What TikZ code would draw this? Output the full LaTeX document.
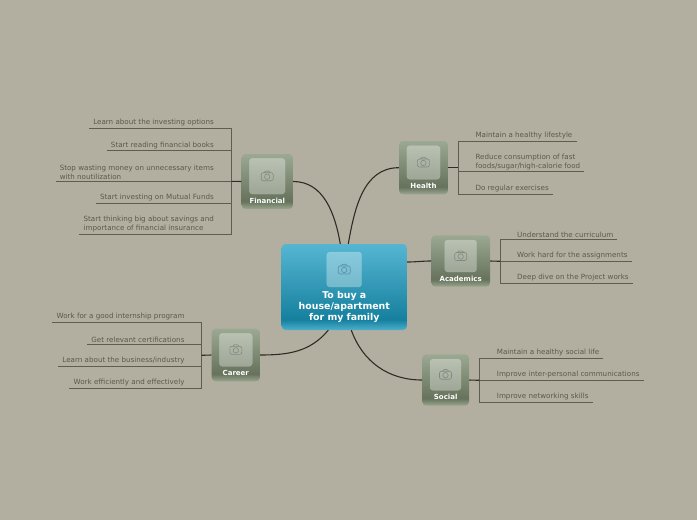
\documentclass[tikz,border=0pt]{standalone}
\usepackage{fontspec}
\setmainfont{DejaVu Sans}
\definecolor{canvas}{HTML}{B3AFA0}
\definecolor{leafink}{HTML}{5A584C}
\definecolor{branchink}{HTML}{5F5C50}
\definecolor{linkink}{HTML}{2E2C24}
\definecolor{topictop}{HTML}{9CA992}
\definecolor{topicmid}{HTML}{66725B}
\definecolor{topicend}{HTML}{9AA78F}
\definecolor{roottop}{HTML}{56B6D2}
\definecolor{rootmid}{HTML}{15809E}
\definecolor{rootend}{HTML}{4DB0CE}
\definecolor{camtopic}{HTML}{7F8A80}
\definecolor{camroot}{HTML}{5A94A9}
\pgfdeclareverticalshading{topicfade}{100bp}{color(0bp)=(topicend); color(25bp)=(topicend); color(32bp)=(topicmid); color(75bp)=(topictop); color(100bp)=(topictop)}
\pgfdeclareverticalshading{rootfade}{100bp}{color(0bp)=(rootend); color(25bp)=(rootend); color(31bp)=(rootmid); color(75bp)=(roottop); color(100bp)=(roottop)}
\begin{document}
\begin{tikzpicture}[
x=1pt,y=-1pt,
topic/.style={rounded corners=4pt,inner sep=0pt,shading=topicfade},
root/.style={rounded corners=4pt,inner sep=0pt,shading=rootfade},
photo/.style={rounded corners=3pt,inner sep=0pt,fill=white,fill opacity=.33,draw=white,draw opacity=.15},
topiclabel/.style={inner sep=0pt,text=white,font=\bfseries\fontsize{7}{8}\selectfont},
rootlabel/.style={inner sep=0pt,text=white,align=center,font=\bfseries\fontsize{9.4}{11}\selectfont},
leafleft/.style={anchor=south east,inner xsep=4pt,inner ysep=2pt,align=left,text=leafink,font=\fontsize{7.15}{9}\selectfont},
leafright/.style={anchor=south west,inner xsep=4pt,inner ysep=2pt,align=left,text=leafink,font=\fontsize{7.15}{9}\selectfont},
branch/.style={draw=branchink,line width=.8pt},
link/.style={draw=linkink,line width=1.1pt},
camera/.pic={
    \draw[pic actions,rounded corners=2pt] (-6,-3.5) rectangle (6,4.5);
    \draw[pic actions,rounded corners=1pt] (-3,-3.5) -- (-2,-5.2) -- (2,-5.2) -- (3,-3.5);
    \draw[pic actions] (0,.5) circle (2.7);
}
]
\fill[canvas] (0,0) rectangle (697,520);

\node[root,minimum width=125.3pt,minimum height=86pt] (root) at (344.3,287) {};
\node[photo,minimum width=35pt,minimum height=35pt] (rootphoto) at (344.2,269.5) {};
\pic[draw=camroot,line width=.7pt] at (344.2,269.5) {camera};
\node[rootlabel] (rootlabel) at (344.3,306.6) {To buy a\\house/apartment\\for my family};

\node[topic,minimum width=51.3pt,minimum height=55pt] (financial) at (267.3,181.5) {};
\node[photo,minimum width=35.7pt,minimum height=35.7pt] (finphoto) at (267.2,176.2) {};
\pic[draw=camtopic,line width=.6pt] at (267.2,176.2) {camera};
\node[topiclabel] (finlabel) at (267.3,200.7) {Financial};

\node[topic,minimum width=49pt,minimum height=53.3pt] (health) at (423.5,167.7) {};
\node[photo,minimum width=33.3pt,minimum height=33.6pt] (hltphoto) at (423.4,162.5) {};
\pic[draw=camtopic,line width=.6pt] at (423.4,162.5) {camera};
\node[topiclabel] (hltlabel) at (423.5,185.7) {Health};

\node[topic,minimum width=58.7pt,minimum height=51.4pt] (academics) at (460.7,261) {};
\node[photo,minimum width=32pt,minimum height=32pt] (acaphoto) at (460.7,256) {};
\pic[draw=camtopic,line width=.6pt] at (460.7,256) {camera};
\node[topiclabel] (acalabel) at (460.7,278.7) {Academics};

\node[topic,minimum width=48.3pt,minimum height=52.6pt] (career) at (235.8,355) {};
\node[photo,minimum width=33pt,minimum height=33pt] (carphoto) at (235.8,349.8) {};
\pic[draw=camtopic,line width=.6pt] at (235.8,349.8) {camera};
\node[topiclabel] (carlabel) at (235.8,372.7) {Career};

\node[topic,minimum width=46.7pt,minimum height=51.4pt] (social) at (445.7,380) {};
\node[photo,minimum width=31pt,minimum height=31.3pt] (socphoto) at (445.5,374.7) {};
\pic[draw=camtopic,line width=.6pt] at (445.5,374.7) {camera};
\node[topiclabel] (soclabel) at (445.7,396.7) {Social};

\coordinate (fintrunk) at (231.7,181.3);
\coordinate (hlttrunk) at (458.3,167.7);
\coordinate (acatrunk) at (500.3,261.3);
\coordinate (cartrunk) at (201.7,355.3);
\coordinate (soctrunk) at (479.3,380.3);

\node[leafleft] (fin1) at (218,128.3) {Learn about the investing options};
\node[leafleft] (fin2) at (218,150.7) {Start reading financial books};
\node[leafleft] (fin3) at (218,181.3) {Stop wasting money on unnecessary items\\with noutilization};
\node[leafleft] (fin4) at (218,203.3) {Start investing on Mutual Funds};
\node[leafleft] (fin5) at (218,234.3) {Start thinking big about savings and\\importance of financial insurance};

\node[leafright] (hlt1) at (471.3,141) {Maintain a healthy lifestyle};
\node[leafright] (hlt2) at (471.3,171.7) {Reduce consumption of fast\\foods/sugar/high-calorie food};
\node[leafright] (hlt3) at (471.3,194) {Do regular exercises};

\node[leafright] (aca1) at (513,239.3) {Understand the curriculum};
\node[leafright] (aca2) at (513,261.3) {Work hard for the assignments};
\node[leafright] (aca3) at (513,283.3) {Deep dive on the Project works};

\node[leafleft] (car1) at (188.7,322.3) {Work for a good internship program};
\node[leafleft] (car2) at (188.7,344.3) {Get relevant certifications};
\node[leafleft] (car3) at (188.7,366.3) {Learn about the business/industry};
\node[leafleft] (car4) at (188.7,388.3) {Work efficiently and effectively};

\node[leafright] (soc1) at (492.7,358) {Maintain a healthy social life};
\node[leafright] (soc2) at (492.7,380.3) {Improve inter-personal communications};
\node[leafright] (soc3) at (492.7,402.3) {Improve networking skills};

\draw[branch] (fin1.south west) -| (fintrunk);
\draw[branch] (fin2.south west) -| (fintrunk);
\draw[branch] (fin3.south west) -| (fintrunk);
\draw[branch] (fin4.south west) -| (fintrunk);
\draw[branch] (fin5.south west) -| (fintrunk);
\draw[branch] (hlt1.south east) -| (hlttrunk);
\draw[branch] (hlt2.south east) -| (hlttrunk);
\draw[branch] (hlt3.south east) -| (hlttrunk);
\draw[branch] (aca1.south east) -| (acatrunk);
\draw[branch] (aca2.south east) -| (acatrunk);
\draw[branch] (aca3.south east) -| (acatrunk);
\draw[branch] (car1.south west) -| (cartrunk);
\draw[branch] (car2.south west) -| (cartrunk);
\draw[branch] (car3.south west) -| (cartrunk);
\draw[branch] (car4.south west) -| (cartrunk);
\draw[branch] (soc1.south east) -| (soctrunk);
\draw[branch] (soc2.south east) -| (soctrunk);
\draw[branch] (soc3.south east) -| (soctrunk);

\draw[link] (financial.west) -- (fintrunk);
\draw[link] (health.east) -- (hlttrunk);
\draw[link] (academics.east) -- (acatrunk);
\draw[link] (career.west) -- (cartrunk);
\draw[link] (social.east) -- (soctrunk);

\draw[link] ([xshift=-4pt]root.north) to[out=100,in=0] (financial.east);
\draw[link] ([xshift=4pt]root.north) to[out=80,in=180] (health.west);
\draw[link] ([yshift=25pt]root.east) to[out=0,in=180] (academics.west);
\draw[link] ([xshift=-16pt]root.south) to[out=-130,in=0] (career.east);
\draw[link] ([xshift=7pt]root.south) to[out=-70,in=180] (social.west);
\end{tikzpicture}
\end{document}
